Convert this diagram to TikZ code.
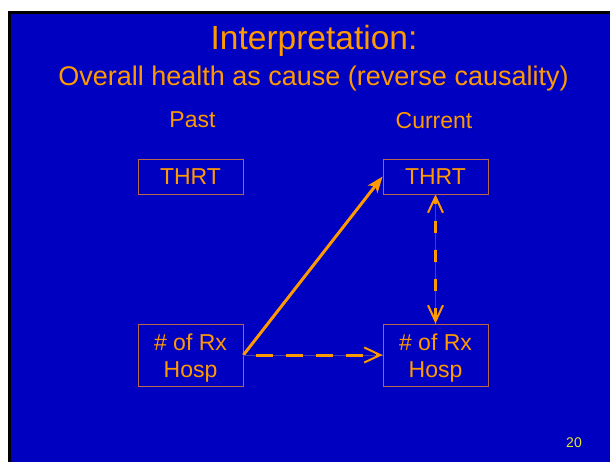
\documentclass[tikz,border=0pt]{standalone}
\usepackage{fontspec}
\setmainfont{Liberation Sans}
\usetikzlibrary{arrows.meta,positioning}
\definecolor{slideblue}{RGB}{0,0,192}
\definecolor{slideorange}{RGB}{255,153,0}
\definecolor{boxline}{RGB}{184,104,72}
\definecolor{pagenum}{RGB}{230,230,40}
\definecolor{shaft}{RGB}{64,64,176}

\begin{document}
\begin{tikzpicture}[x=1pt,y=-1pt]
\tikzstyle{every node}+=[inner sep=0pt, text=slideorange]
\tikzstyle{var}=[draw=boxline, line width=0.8pt, minimum width=105pt, align=center, font=\fontsize{23}{27}\selectfont]
\tikzstyle{dashlink}=[slideorange, line width=3pt, preaction={draw=shaft, line width=0.8pt, solid, -}]
% slide background
\fill [white] (0,0) rectangle (610,462);
\fill [black] (8,11) rectangle (610,462);
\fill [slideblue] (11,14) rectangle (610,462);
% headings
\node [anchor=base, font=\fontsize{33.5}{40}\selectfont] (title) at (314,50) {Interpretation:};
\node [anchor=base, font=\fontsize{27}{32}\selectfont] (subtitle) at (313.5,86) {Overall health as cause (reverse causality)};
\node [anchor=base, font=\fontsize{23}{27}\selectfont] (past) at (192.5,128) {Past};
\node [anchor=base, font=\fontsize{23}{27}\selectfont] (current) at (434,129) {Current};
% variables
\node [var, minimum height=35pt] (thrtpast) at (190.5,176.5) {THRT};
\node [var, minimum height=35pt] (thrtnow) at (435.5,176.5) {THRT};
\node [var, minimum height=62pt] (rxpast) at (190.5,355) {\rule{0pt}{23pt}\# of Rx\\Hosp};
\node [var, minimum height=62pt] (rxnow) at (435.5,355) {\rule{0pt}{23pt}\# of Rx\\Hosp};
% links
\draw [slideorange, line width=3pt, -{Stealth[length=16pt,width=12pt,inset=4pt]}] (rxpast.east) -- (thrtnow.west);
\draw [dashlink, dash pattern=on 17pt off 13pt, dash phase=17pt, -{Straight Barb[length=16pt,width=15pt,line width=2pt]}] (rxpast.east) -- (rxnow.west);
\draw [dashlink, dash pattern=on 12pt off 17pt, dash phase=6pt, {Straight Barb[length=16pt,width=15pt,line width=2pt]}-{Straight Barb[length=16pt,width=15pt,line width=2pt]}] (thrtnow.south) -- (rxnow.north);
% page number
\node [anchor=base, text=pagenum, font=\fontsize{14}{17}\selectfont] (page) at (574,447) {20};
\end{tikzpicture}
\end{document}
